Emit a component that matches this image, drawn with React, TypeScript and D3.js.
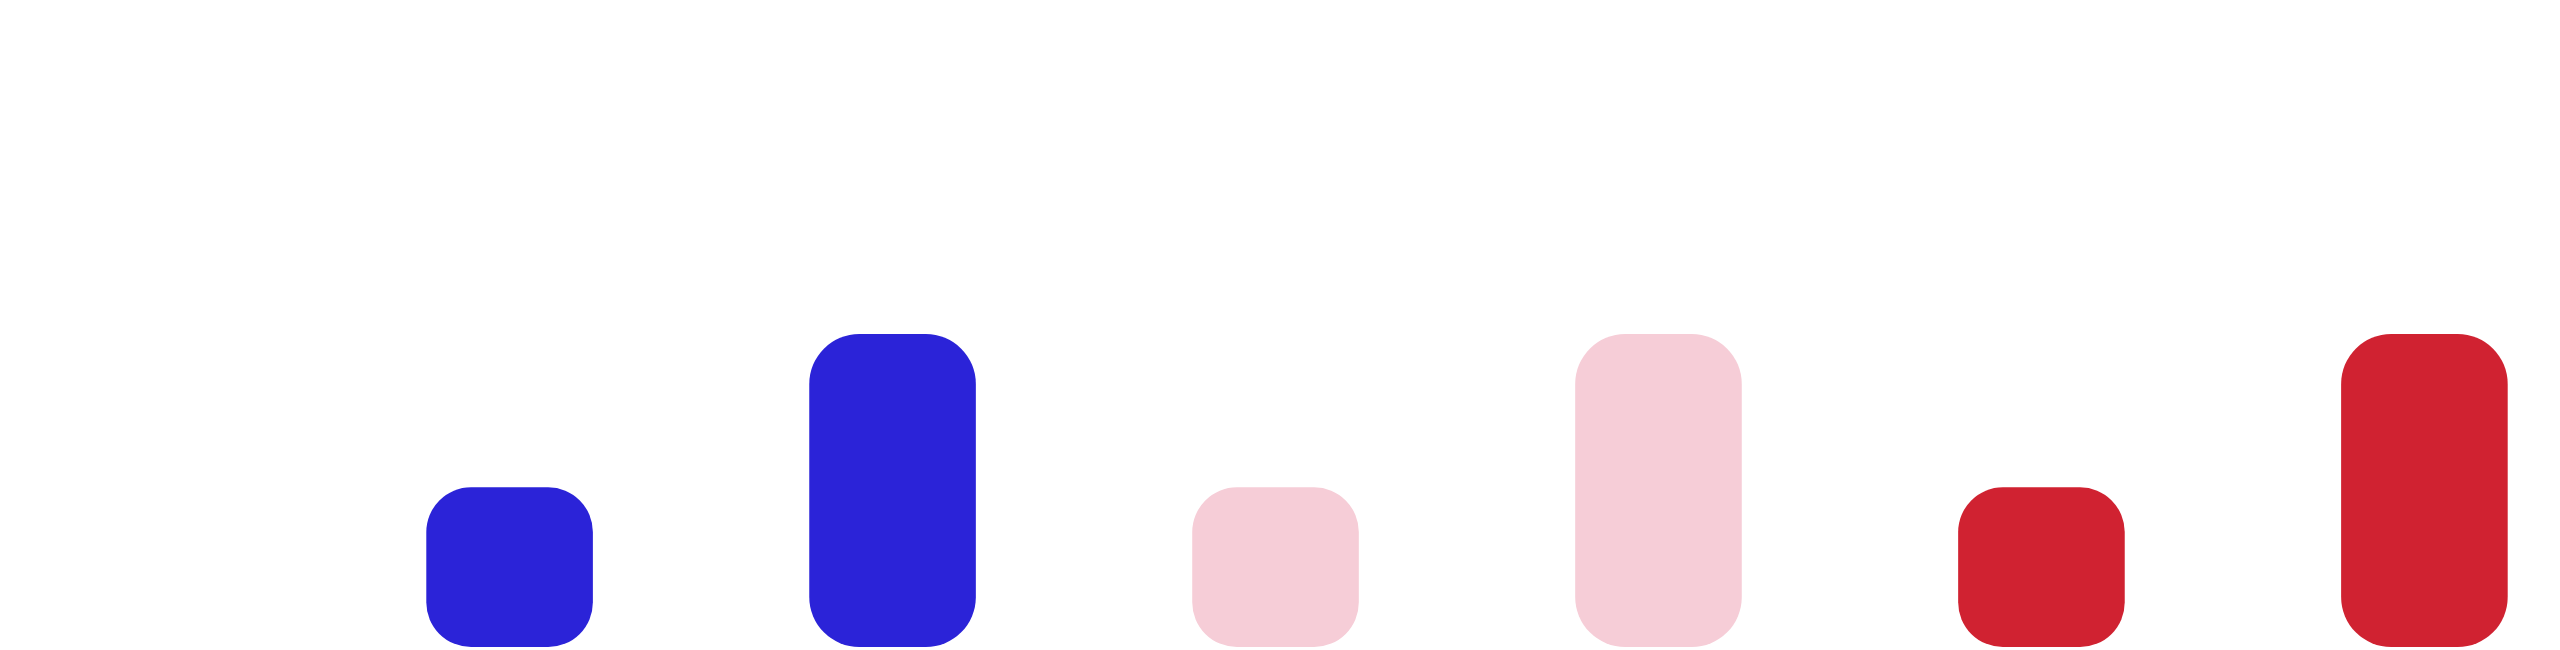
import { useRef, useEffect } from 'react';
import * as d3 from 'd3';

// six bars, two per colour: a short one then a tall one
const categories = ['blue-low', 'blue-high', 'pink-low', 'pink-high', 'red-low', 'red-high'];
const values = [51, 100, 51, 100, 51, 100];
const barColors = ['#2B23D8', '#2B23D8', '#F6CDD7', '#F6CDD7', '#D02231', '#D02231'];

const App = () => {
    const svgRef = useRef<SVGSVGElement | null>(null);

    useEffect(() => {
        const svgElement = svgRef.current;
        if (!svgElement) return;

        const width = 2560;
        const height = 650;

        const svg = d3.select(svgElement)
            .attr('width', width)
            .attr('height', height);

        svg.selectAll('*').remove();

        const x = d3.scaleBand<string>()
            .domain(categories)
            .range([388, 2546])
            .paddingInner(0.565)
            .paddingOuter(0.1);

        const y = d3.scaleLinear()
            .domain([0, 100])
            .range([647, 334]);

        // rounded bar, corner radius shrinks a bit on the short bars
        const roundedBar = (x0: number, y0: number, w: number, h: number) => {
            const r = Math.min(50, h * 0.28, w / 2);
            const p = d3.path();
            p.moveTo(x0 + r, y0);
            p.lineTo(x0 + w - r, y0);
            p.arcTo(x0 + w, y0, x0 + w, y0 + r, r);
            p.lineTo(x0 + w, y0 + h - r);
            p.arcTo(x0 + w, y0 + h, x0 + w - r, y0 + h, r);
            p.lineTo(x0 + r, y0 + h);
            p.arcTo(x0, y0 + h, x0, y0 + h - r, r);
            p.lineTo(x0, y0 + r);
            p.arcTo(x0, y0, x0 + r, y0, r);
            p.closePath();
            return p.toString();
        };

        svg.append('g')
            .selectAll('path')
            .data(categories)
            .join('path')
            .attr('d', (d, i) => roundedBar(x(d)!, y(values[i]), x.bandwidth(), y(0) - y(values[i])))
            .attr('fill', (_, i) => barColors[i]);
    }, []);

    return (
        <div style={{ position: 'absolute', left: 0, top: 0, width: 2560, height: 650, background: '#fff' }}>
            <svg ref={svgRef} style={{ display: 'block' }}></svg>
        </div>
    );
};

export default App;
